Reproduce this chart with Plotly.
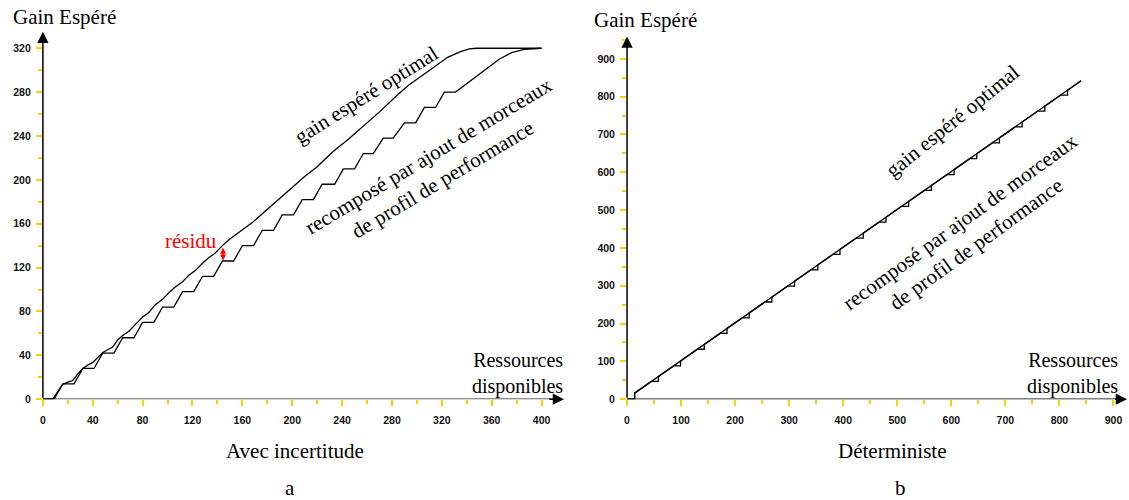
import plotly.graph_objects as go

# ---------------- data: panel a (Avec incertitude) ----------------
opt_a_x = [0, 8, 12, 16, 20, 24, 28, 32, 36, 40, 44, 48, 52, 56, 60, 64, 69, 74, 80, 85, 90, 96, 101, 106,
           112, 117, 122, 128, 133, 138, 144, 150, 155, 160, 168, 176, 184, 192, 200, 210, 220, 233, 245,
           258, 270, 285, 293, 304, 315, 325, 335, 342, 348, 400]
opt_a_y = [0, 0, 7, 13.5, 15.5, 17, 23, 28, 31, 33.5, 38, 42.5, 45, 47.5, 54, 58, 62, 68, 75, 79, 86, 91, 97, 102,
           107, 113, 117, 124, 129, 133, 140, 146, 150, 154, 161, 169, 177, 185, 193, 203, 212, 226, 237,
           250, 262, 278, 286, 295, 304, 312, 317, 319.5, 320, 320]

stair_start = [0, 16, 32, 48, 64, 80, 96, 112, 128, 144, 160, 176, 192, 208, 224, 241, 257, 273, 290, 306, 322]
stair_end = [9, 25, 41, 57, 73, 89, 105, 121, 137, 153, 169, 185, 201, 217, 234, 250, 265, 281, 299, 315, 331]
stair_level = [0, 14, 28, 42, 56, 70, 84, 98, 112, 126, 140, 154, 168, 182, 196, 210, 224, 238, 252, 266, 280]
stair_tail_x = [366, 376, 386, 400]
stair_tail_y = [310, 316, 319, 320]

xticks_a = [0, 40, 80, 120, 160, 200, 240, 280, 320, 360, 400]
yticks_a = [0, 40, 80, 120, 160, 200, 240, 280, 320]

residu_x = 144.5
residu_top = 139.5
residu_bottom = 126.5

# ---------------- data: panel b (Déterministe) ----------------
opt_b_x = [0, 14, 14, 840]
opt_b_y = [0, 0, 16, 842]

rec_b_start = [45, 86, 130, 172, 213, 255, 297, 340, 381, 424, 466, 508, 550, 592, 634, 676, 718, 760, 802]
rec_b_end = [58, 99, 143, 185, 226, 268, 310, 353, 394, 437, 479, 521, 563, 605, 647, 689, 731, 773, 815]
rec_b_level = [47, 88, 132, 174, 215, 257, 299, 342, 383, 426, 468, 510, 552, 594, 636, 678, 720, 762, 804]
rec_b_top = [60, 101, 145, 187, 228, 270, 312, 355, 396, 439, 481, 523, 565, 607, 649, 691, 733, 775, 817]

xticks_b = [0, 100, 200, 300, 400, 500, 600, 700, 800, 900]
yticks_b = [0, 100, 200, 300, 400, 500, 600, 700, 800, 900]

# ---------------- build polylines ----------------
sa_x, sa_y = [], []
for s, e, lv in zip(stair_start, stair_end, stair_level):
    sa_x += [s, e]
    sa_y += [lv, lv]
sa_x += stair_tail_x
sa_y += stair_tail_y

rb_x, rb_y = [opt_b_x[0], opt_b_x[1], opt_b_x[2]], [opt_b_y[0], opt_b_y[1], opt_b_y[2]]
for s, e, lv, tp in zip(rec_b_start, rec_b_end, rec_b_level, rec_b_top):
    rb_x += [s, e, e]
    rb_y += [lv, lv, tp]
rb_x.append(opt_b_x[-1])
rb_y.append(opt_b_y[-1])

YEL = "#FFCC00"
SERIF = "Liberation Serif"
SANS = "Liberation Sans"
LW = 1.3

fig = go.Figure()
fig.add_trace(go.Scatter(x=opt_a_x, y=opt_a_y, mode="lines", line=dict(color="black", width=LW),
                         xaxis="x", yaxis="y", showlegend=False, hoverinfo="skip"))
fig.add_trace(go.Scatter(x=sa_x, y=sa_y, mode="lines", line=dict(color="black", width=LW),
                         xaxis="x", yaxis="y", showlegend=False, hoverinfo="skip"))
fig.add_trace(go.Scatter(x=opt_b_x, y=opt_b_y, mode="lines", line=dict(color="black", width=LW),
                         xaxis="x2", yaxis="y2", showlegend=False, hoverinfo="skip"))
fig.add_trace(go.Scatter(x=rb_x, y=rb_y, mode="lines", line=dict(color="black", width=LW),
                         xaxis="x2", yaxis="y2", showlegend=False, hoverinfo="skip"))

W, H = 1129, 500


def xax(domain, rng, tv, minor_dt, anchor):
    return dict(domain=domain, range=rng, tickmode="array", tickvals=tv, ticktext=[str(v) for v in tv],
                ticks="outside", ticklen=6, tickwidth=2, tickcolor=YEL,
                minor=dict(tickmode="linear", tick0=0, dtick=minor_dt, ticks="outside", ticklen=4,
                           tickwidth=2, tickcolor=YEL),
                showgrid=False, zeroline=False, showline=False, anchor=anchor,
                tickfont=dict(family=SANS, size=10.5, color="#111", weight="bold"),
                ticklabelstandoff=5, fixedrange=True)


def yax(domain, rng, tv, minor_dt, anchor):
    d = xax(domain, rng, tv, minor_dt, anchor)
    d["ticklabelstandoff"] = 3
    return d


fig.update_layout(
    width=W, height=H, margin=dict(l=0, r=0, t=0, b=0),
    paper_bgcolor="white", plot_bgcolor="white",
    xaxis=xax([40 / W, 562.5 / W], [0, 418], xticks_a, 20, "y"),
    yaxis=yax([96 / H, (H - 32.2) / H], [0, 335], yticks_a, 20, "x"),
    xaxis2=xax([625.7 / W, 1127 / W], [0, 925], xticks_b, 50, "y2"),
    yaxis2=yax([96 / H, (H - 37) / H], [0, 959], yticks_b, 50, "x2"),
)

shapes = [
    dict(type="line", xref="x", yref="y", x0=0, y0=0, x1=410, y1=0, line=dict(color="#666666", width=2), layer="below"),
    dict(type="line", xref="x2", yref="y2", x0=0, y0=0, x1=910, y1=0, line=dict(color="black", width=1.5), layer="below"),
]
fig.update_layout(shapes=shapes)

ann = []


def arrow(xr, yr, x, y, ax_, ay_, color="black", width=1.5, size=1.5):
    return dict(xref=xr, yref=yr, axref=xr, ayref=yr, x=x, y=y, ax=ax_, ay=ay_, text="",
                showarrow=True, arrowhead=2, arrowsize=size, arrowwidth=width, arrowcolor=color, standoff=0)


ann.append(arrow("x", "y", 0, 335, 0, 0))
ann.append(arrow("x", "y", 418, 0, 405, 0, width=1.5))
ann.append(arrow("x2", "y2", 0, 959, 0, 0))
ann.append(arrow("x2", "y2", 925, 0, 900, 0))

# residu double arrow
ann.append(dict(xref="x", yref="y", axref="x", ayref="y", x=residu_x, y=residu_bottom, ax=residu_x, ay=residu_top,
                text="", showarrow=True, arrowhead=2, startarrowhead=2, arrowside="end+start",
                arrowsize=0.8, startarrowsize=0.8, arrowwidth=1.5, arrowcolor="red", standoff=0, startstandoff=0))


def txt(t, px, py, size=21, angle=0, color="black", xanchor="center", align="center"):
    return dict(xref="paper", yref="paper", x=px / W, y=1 - py / H, text=t, showarrow=False,
                textangle=angle, xanchor=xanchor, yanchor="middle", align=align,
                font=dict(family=SERIF, size=size, color=color))


ann += [
    txt("Gain Espéré", 62, 17),
    txt("Gain Espéré", 644, 20),
    txt("Avec incertitude", 293, 456),
    txt("a", 288, 494),
    txt("Déterministe", 891, 456),
    txt("b", 900, 494),
    txt("Ressources<br>disponibles", 563, 378, size=20, xanchor="right", align="right"),
    txt("Ressources<br>disponibles", 1120, 378, size=20, xanchor="right", align="right"),
    txt("résidu", 188, 244, color="red"),
    txt("gain espéré optimal", 364, 96, angle=-32),
    txt("recomposé par ajout de morceaux<br>de profil de performance", 434, 170, angle=-31),
    txt("gain espéré optimal", 952, 122, angle=-39),
    txt("recomposé par ajout de morceaux<br>de profil de performance", 968, 235, angle=-36),
]
fig.update_layout(annotations=ann)

fig.write_html("out.html", config={"displayModeBar": False},
               post_script="document.body.style.margin='0';document.body.style.overflow='hidden';"
                           "document.documentElement.style.overflow='hidden';")
